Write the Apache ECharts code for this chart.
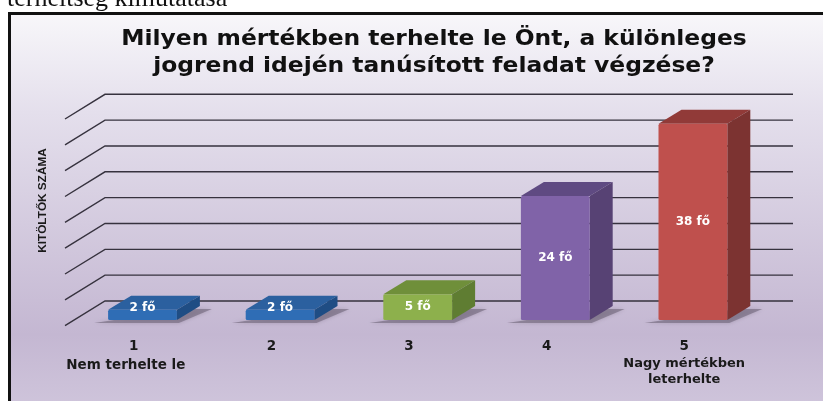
<!DOCTYPE html>
<html>
<head>
<meta charset="utf-8">
<style>html,body{margin:0;padding:0;background:#fff}#chart{width:823px;height:401px}</style>
<script src="https://cdn.jsdelivr.net/npm/echarts@6/dist/echarts.min.js"></script>
</head>
<body>
<div id="chart"></div>
<script>
const categories = ['1', '2', '3', '4', '5']
const categoryNotes = [['Nem terhelte le'], [], [], [], ['Nagy mértékben', 'leterhelte']]
const values = [2, 2, 5, 24, 38]
const valueLabels = ['2 fő', '2 fő', '5 fő', '24 fő', '38 fő']
const gridValues = [0, 5, 10, 15, 20, 25, 30, 35, 40]
const frontColors = ['#2f6db5', '#2f6db5', '#8db04c', '#8063a8', '#bf504d']
const topColors = ['#2b609f', '#2b609f', '#6f8f3a', '#5f4a82', '#913a38']
const sideColors = ['#1f4d84', '#1f4d84', '#5f7d32', '#574274', '#7c3331']

const wallDx = 40
const wallDy = -24.7
const barShift = [8.7, -5.7]
const depth = [23, -14]

const chart = echarts.init(document.getElementById('chart'))

const renderWall = (params, api) => {
  const y = api.coord([0, api.value(0)])[1]
  const left = params.coordSys.x
  const right = left + params.coordSys.width
  return {
    type: 'polyline',
    shape: { points: [[left, y], [left + wallDx, y + wallDy], [right + wallDx, y + wallDy]] },
    style: { stroke: '#36323e', lineWidth: 1.4, fill: null },
  }
}

const renderBar = (params, api) => {
  const i = api.value(0)
  const val = api.value(1)
  const base = api.coord([i, 0])
  const top = api.coord([i, val])
  const w = api.size([1, 0])[0] * 0.5
  const x0 = base[0] + barShift[0] - w / 2
  const x1 = x0 + w
  const y0 = base[1] + barShift[1]
  const y1 = top[1] + barShift[1]
  const labelY = Math.min((y0 + y1) / 2, y0 - 12)
  return {
    type: 'group',
    children: [
      {
        type: 'polygon',
        shape: { points: [[x0 - 14, y0 + 3], [x1 + 2, y0 + 3], [x1 + depth[0] + 12, y0 + depth[1] + 3], [x1 + 10, y0 + depth[1] + 3]] },
        style: { fill: 'rgba(110,100,120,0.6)', shadowBlur: 4, shadowColor: 'rgba(110,100,120,0.6)' },
      },
      {
        type: 'polygon',
        shape: { points: [[x0, y1], [x0 + depth[0], y1 + depth[1]], [x1 + depth[0], y1 + depth[1]], [x1, y1]] },
        style: { fill: topColors[i] },
      },
      {
        type: 'polygon',
        shape: { points: [[x1, y1], [x1 + depth[0], y1 + depth[1]], [x1 + depth[0], y0 + depth[1]], [x1, y0]] },
        style: { fill: sideColors[i] },
      },
      {
        type: 'rect',
        shape: { x: x0, y: y1, width: w, height: y0 - y1, r: 1.5 },
        style: { fill: frontColors[i] },
      },
      {
        type: 'text',
        style: {
          x: x0 + w / 2,
          y: labelY,
          text: valueLabels[i],
          fill: '#fff',
          font: 'bold 12px "DejaVu Sans"',
          align: 'center',
          verticalAlign: 'middle',
        },
      },
    ],
  }
}

const options = {
  animation: false,
  grid: { left: 65, top: 119, width: 688, height: 206.7 },
  xAxis: {
    type: 'category',
    data: categories,
    axisLine: { show: false },
    axisTick: { show: false },
    axisLabel: {
      interval: 0,
      margin: 11,
      formatter: (value, idx) => {
        const notes = categoryNotes[idx]
        // the left note sits off centre in the reference
        const style = notes.length === 1 ? 's1' : 's'
        return [`{n|${value}}`, ...notes.map((t) => `{${style}|${t}}`)].join('\n')
      },
      rich: {
        n: { color: '#1a1a1a', fontFamily: 'DejaVu Sans', fontWeight: 'bold', fontSize: 13.5, lineHeight: 19 },
        s: { color: '#1a1a1a', fontFamily: 'DejaVu Sans', fontWeight: 'bold', fontSize: 13, lineHeight: 16 },
        s1: { color: '#1a1a1a', fontFamily: 'DejaVu Sans', fontWeight: 'bold', fontSize: 13.5, lineHeight: 19, padding: [0, 16, 0, 0] },
      },
    },
  },
  yAxis: {
    type: 'value',
    min: 0,
    max: 40,
    interval: 5,
    axisLine: { show: false },
    axisTick: { show: false },
    axisLabel: { show: false },
    splitLine: { show: false },
  },
  graphic: [
    {
      type: 'rect',
      z: -10,
      shape: { x: 9.5, y: 13.5, width: 830, height: 400 },
      style: {
        fill: new echarts.graphic.LinearGradient(0, 0, 0, 1, [
          { offset: 0, color: '#f8f7fa' },
          { offset: 0.25, color: '#e4dfec' },
          { offset: 0.8, color: '#c4b7d2' },
          { offset: 1, color: '#d0c6dc' },
        ]),
        stroke: '#111',
        lineWidth: 3,
      },
    },
    {
      type: 'text',
      x: 7,
      y: -14,
      style: { text: 'terheltség kimutatása', fill: '#111', font: '26px "Liberation Serif"' },
    },
    {
      type: 'text',
      x: 434,
      y: 26.5,
      scaleX: 1.114,
      style: {
        text: 'Milyen mértékben terhelte le Önt, a különleges\njogrend idején tanúsított feladat végzése?',
        fill: '#111',
        font: 'bold 21px "DejaVu Sans"',
        align: 'center',
        lineHeight: 27,
      },
    },
    {
      type: 'text',
      x: 43,
      y: 200.5,
      rotation: Math.PI / 2,
      style: {
        text: 'KITÖLTŐK SZÁMA',
        fill: '#1a1a1a',
        font: 'bold 11.8px "Liberation Sans"',
        align: 'center',
        verticalAlign: 'middle',
      },
    },
  ],
  series: [
    {
      type: 'custom',
      coordinateSystem: 'cartesian2d',
      renderItem: renderWall,
      encode: { x: 1, y: 0 },
      data: gridValues.map((v) => [v, 0]),
      z: 1,
      silent: true,
    },
    {
      type: 'custom',
      coordinateSystem: 'cartesian2d',
      renderItem: renderBar,
      encode: { x: 0, y: 1 },
      data: values.map((v, i) => [i, v]),
      z: 2,
      silent: true,
    },
  ],
}
chart.setOption(options)
</script>
</body>
</html>
